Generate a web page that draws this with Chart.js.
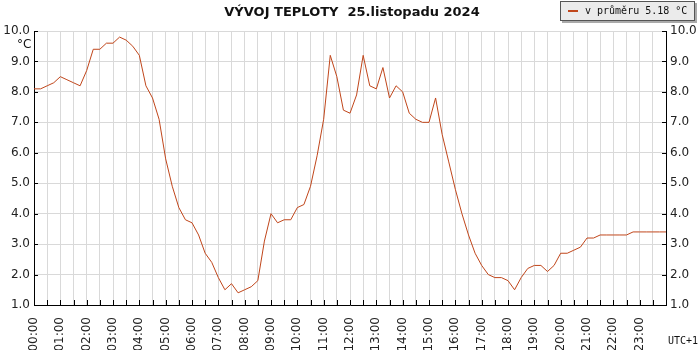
<!DOCTYPE html>
<html>
<head>
<meta charset="utf-8">
<script src="https://cdn.jsdelivr.net/npm/chart.js@4.4.1/dist/chart.umd.min.js"></script>
<style>
  html, body { margin: 0; padding: 0; background: #fff; }
  #wrap { position: relative; width: 700px; height: 350px; }
  #title { position: absolute; left: 0; top: 4px; width: 704px; text-align: center; white-space: pre;
           font: bold 13px 'DejaVu Sans'; color: #111; }
  #legend { position: absolute; left: 560px; top: 1px; width: 135px; height: 20px; box-sizing: border-box;
            background: #ebebeb; border: 1px solid #555; box-shadow: 2px 2px 0 #aaa;
            font: 10px 'DejaVu Sans Mono'; color: #111; }
  #legend .swatch { position: absolute; left: 7px; top: 8px; width: 10px; height: 2px; background: #c0461b; }
  #legend .txt { position: absolute; left: 24px; top: 3px; white-space: pre; }
  #unit { position: absolute; left: 17px; top: 37px; font: 12px 'DejaVu Sans'; color: #111; }
  #utc { position: absolute; left: 668px; top: 335px; font: 10px 'DejaVu Sans Mono'; color: #111; }
</style>
</head>
<body>
<div id="wrap">
  <canvas id="chart" width="700" height="350"></canvas>
  <div id="title">VÝVOJ TEPLOTY  25.listopadu 2024</div>
  <div id="legend"><span class="swatch"></span><span class="txt">v průměru 5.18 °C</span></div>
  <div id="unit">°C</div>
  <div id="utc">UTC+1</div>
</div>
<script>
// 15 minute readings, 00:00 .. 24:00
const timeLabels = [
  '00:00', '00:15', '00:30', '00:45', '01:00', '01:15', '01:30', '01:45',
  '02:00', '02:15', '02:30', '02:45', '03:00', '03:15', '03:30', '03:45',
  '04:00', '04:15', '04:30', '04:45', '05:00', '05:15', '05:30', '05:45',
  '06:00', '06:15', '06:30', '06:45', '07:00', '07:15', '07:30', '07:45',
  '08:00', '08:15', '08:30', '08:45', '09:00', '09:15', '09:30', '09:45',
  '10:00', '10:15', '10:30', '10:45', '11:00', '11:15', '11:30', '11:45',
  '12:00', '12:15', '12:30', '12:45', '13:00', '13:15', '13:30', '13:45',
  '14:00', '14:15', '14:30', '14:45', '15:00', '15:15', '15:30', '15:45',
  '16:00', '16:15', '16:30', '16:45', '17:00', '17:15', '17:30', '17:45',
  '18:00', '18:15', '18:30', '18:45', '19:00', '19:15', '19:30', '19:45',
  '20:00', '20:15', '20:30', '20:45', '21:00', '21:15', '21:30', '21:45',
  '22:00', '22:15', '22:30', '22:45', '23:00', '23:15', '23:30', '23:45',
  '24:00'
];

const temps = [
  8.1, 8.1, 8.2, 8.3, 8.5, 8.4, 8.3, 8.2,
  8.7, 9.4, 9.4, 9.6, 9.6, 9.8, 9.7, 9.5,
  9.2, 8.2, 7.8, 7.1, 5.8, 4.9, 4.2, 3.8,
  3.7, 3.3, 2.7, 2.4, 1.9, 1.5, 1.7, 1.4,
  1.5, 1.6, 1.8, 3.1, 4.0, 3.7, 3.8, 3.8,
  4.2, 4.3, 4.9, 5.9, 7.1, 9.2, 8.5, 7.4,
  7.3, 7.9, 9.2, 8.2, 8.1, 8.8, 7.8, 8.2,
  8.0, 7.3, 7.1, 7.0, 7.0, 7.8, 6.6, 5.7,
  4.8, 4.0, 3.3, 2.7, 2.3, 2.0, 1.9, 1.9,
  1.8, 1.5, 1.9, 2.2, 2.3, 2.3, 2.1, 2.3,
  2.7, 2.7, 2.8, 2.9, 3.2, 3.2, 3.3, 3.3,
  3.3, 3.3, 3.3, 3.4, 3.4, 3.4, 3.4, 3.4,
  3.4
];

const yMin = 1;
const yMax = 10;
const yStep = 0.5;

const lineColor = '#c0461b';
const gridColor = '#d9d9d9';
const tickFont = { family: 'DejaVu Sans', size: 12 };

// short tick marks pointing into the plot
const innerTicks = {
  id: 'innerTicks',
  afterDraw(chart) {
    const { ctx, chartArea: a, scales: { x, y } } = chart;
    ctx.save();
    ctx.strokeStyle = '#000';
    ctx.lineWidth = 1;
    ctx.beginPath();
    x.ticks.forEach((t, i) => {
      if (i % 2) return;
      const px = Math.round(x.getPixelForTick(i)) + 0.5;
      ctx.moveTo(px, a.bottom);
      ctx.lineTo(px, a.bottom - 5);
    });
    y.ticks.forEach((t, i) => {
      const py = Math.round(y.getPixelForTick(i)) + 0.5;
      ctx.moveTo(a.left, py);
      ctx.lineTo(a.left + 4, py);
      ctx.moveTo(a.right, py);
      ctx.lineTo(a.right - 4, py);
    });
    ctx.stroke();
    ctx.restore();
  }
};

const yTicks = {
  stepSize: yStep,
  padding: 4,
  color: '#222',
  font: tickFont,
  callback: v => Number.isInteger(v) ? v.toFixed(1) : ''
};

new Chart(document.getElementById('chart'), {
  type: 'line',
  data: {
    labels: timeLabels,
    datasets: [{
      data: temps,
      borderColor: lineColor,
      borderWidth: 1,
      pointRadius: 0,
      tension: 0,
      fill: false,
      yAxisID: 'y'
    }]
  },
  options: {
    responsive: false,
    animation: false,
    devicePixelRatio: 1,
    layout: { padding: { top: 31, left: 0, right: 0, bottom: 0 }, autoPadding: false },
    plugins: { legend: { display: false }, tooltip: { enabled: false }, title: { display: false } },
    scales: {
      x: {
        type: 'category',
        offset: false,
        border: { color: '#000' },
        grid: {
          color: c => c.index % 2 === 0 ? gridColor : 'rgba(0,0,0,0)',
          drawTicks: false
        },
        ticks: {
          autoSkip: false,
          minRotation: 90,
          maxRotation: 90,
          padding: 12,
          color: '#222',
          font: tickFont,
          callback: (v, i) => (i % 4 === 0 && i < timeLabels.length - 1) ? timeLabels[i] : ''
        },
        afterFit: s => { s.height = 45; }
      },
      y: {
        position: 'left',
        min: yMin,
        max: yMax,
        border: { color: '#000' },
        grid: {
          color: c => Number.isInteger(c.tick.value) ? gridColor : 'rgba(0,0,0,0)',
          drawTicks: false
        },
        ticks: yTicks,
        afterFit: s => { s.width = 34; }
      },
      y2: {
        position: 'right',
        min: yMin,
        max: yMax,
        border: { color: '#000' },
        grid: { display: false, drawTicks: false },
        ticks: yTicks,
        afterFit: s => { s.width = 34; }
      }
    }
  },
  plugins: [innerTicks]
});
</script>
</body>
</html>
